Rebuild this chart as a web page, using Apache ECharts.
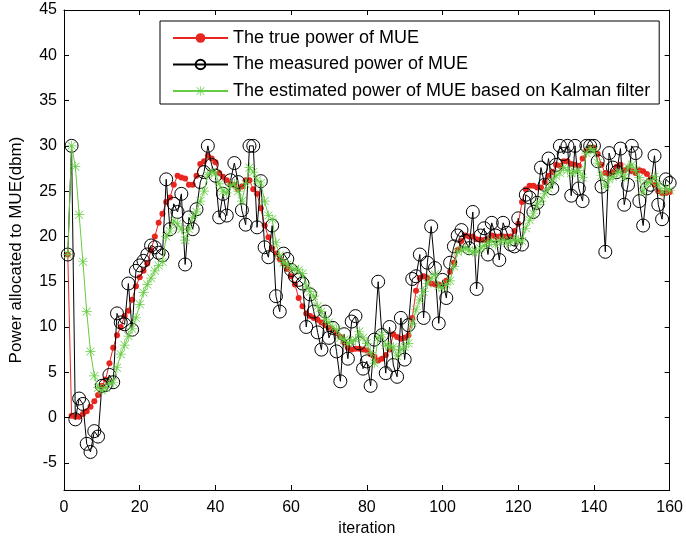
<!DOCTYPE html>
<html>
<head>
<meta charset="utf-8">
<script src="https://cdn.jsdelivr.net/npm/echarts@6/dist/echarts.min.js"></script>
<style>
html,body{margin:0;padding:0;background:#fff;}
#chart{width:686px;height:542px;}
</style>
</head>
<body>
<div id="chart"></div>
<script>
// iteration index 1..160
const iterations = Array.from({length: 160}, (_, k) => k + 1);

const truePower = [
18,0.2,0.1,0.1,0.4,0.7,1.2,1.8,2.5,3.5,
4.2,6,7.7,9.1,10,11.2,11.8,13,14.5,15.5,
16.2,17,18.5,20,21.5,22.5,23.8,24.3,25.7,26.7,
26.5,26.4,25.7,25.7,26.7,28.0,28.3,28.9,28.6,28.2,
27.0,26.6,26.2,25.8,25.7,25.2,25.5,26.2,26.2,25.2,
24.7,23.1,21.2,19.9,18.7,18.1,17.5,17.0,16.4,15.6,
14.7,13.2,12.3,11.5,11.2,11.0,10.8,10.5,10.2,9.9,
9.6,9.3,8.9,8.3,7.7,7.5,7.6,7.6,7.5,7.4,
7.0,6.7,6.3,6.5,6.9,7.5,9.2,8.9,8.7,8.8,
9.1,11.0,14.0,15.4,15.6,15.4,14.8,14.7,14.7,14.5,
15.1,16.1,17.1,18.5,19.5,20.1,20.0,20.0,19.7,19.6,
19.6,19.7,20.1,20.0,20.0,20.0,20.0,20.0,20.6,21.4,
23.8,25.2,25.6,25.6,25.4,25.4,26.0,26.7,27.1,27.9,
27.8,28.3,28.3,28.0,27.9,27.8,28.6,29.5,29.8,29.8,
29.1,27.9,27.0,26.9,27.1,27.7,27.9,27.3,27.5,27.2,
27.0,27.3,27.2,26.9,26.4,25.7,25.0,24.8,24.8,24.9
];

const measuredPower = [
18,30,-0.2,2.1,1.5,-2.9,-3.8,-1.5,-2.1,3.5,
3.6,4.7,3.9,11.5,10.5,10.3,14.8,9.7,16.2,16.8,
17.3,18,19,18.8,18.2,17.9,26.3,20.8,23.6,22.7,
24.7,16.9,22.1,20.8,23.0,26.0,27.1,30,27.9,26.7,
22.1,24.7,22.3,26.2,28.1,26.0,22.9,21.3,30,30,
21.0,26.1,18.8,17.7,21.2,13.4,11.7,18.1,17.5,16.3,
15.6,15.2,14.8,10.0,13.6,11.7,9.4,7.5,11.7,8.8,
9.9,7.3,4.0,9.2,6.5,10.6,11.2,8.2,5.4,6.2,
3.5,8.6,15.0,9.1,4.9,10.0,5.8,4.5,11.0,6.4,
10.2,15.3,15.6,18.0,11.0,17.1,21.1,16.5,10.4,15.2,
13.2,17.1,18.9,20.1,20.7,19.5,18.7,22.7,14.2,20.1,
20.9,18.0,21.5,20.1,17.4,21.5,20.4,19.1,18.9,22.0,
19.1,24.6,24.3,22.7,23.7,27.6,25.7,28.6,25.3,27.9,
30,29.1,30,24.5,30,25.3,23.9,30,30,30,
28.3,25.5,18.3,29.2,27.6,27.1,29.7,23.5,25.7,30,
29.2,23.9,21.2,25.3,25.7,28.9,23.5,21.9,26.3,25.9
];

const estimatedPower = [
18,30,27.7,22.4,17.2,11.7,7.3,4.6,3.3,3.0,
3.3,3.8,3.9,5.5,7,8,9,9.8,11,12.5,
13.8,14.7,15.4,16.2,16.8,17.2,20.0,20.6,21.7,21.4,
20.8,19.6,20.8,22.1,22.7,23.9,25.0,26.8,27.1,27.0,
25.8,25.0,24.8,25.6,25.8,25.0,23.9,25.8,27.6,27.1,
26.2,25.9,23.9,22.3,21.9,19.3,17.9,17.1,16.9,16.5,
16.4,16.3,15.9,14.5,13.9,13.4,12.3,11.7,10.8,10.5,
10.0,9.7,8.8,8.6,8.2,8.4,8.6,9.5,8.8,8.2,
7.2,6.0,8.8,9.2,8.0,7.8,7.8,6.8,7.5,7.8,
8.2,10.4,11.9,13.0,13.9,14.8,15.4,15.8,14.5,14.3,
14.7,15.1,16.7,18.3,18.5,18.7,18.5,18.3,18.3,18.7,
19.0,19.3,19.5,19.1,19.5,19.6,19.3,19.5,19.6,19.6,
19.5,20.9,21.8,22.5,23.5,23.9,24.7,25.3,26.1,26.7,
27.0,27.6,27.3,27.0,27.1,27.3,26.5,29.2,29.7,29.5,
28.1,26.7,25.5,26.3,26.6,27.0,27.1,26.5,27.6,27.9,
27.3,26.5,24.9,25.9,26.0,26.6,25.7,24.9,25.3,25.1
];

const seriesNames = [
  'The true power of MUE',
  'The measured power of MUE',
  'The estimated power of MUE based on Kalman filter'
];
const xTicks = {min: 0, max: 160, interval: 20};
const yRange = {min: -8, max: 45};
const yTickValues = [-5, 0, 5, 10, 15, 20, 25, 30, 35, 40, 45];

const pairs = arr => iterations.map((it, k) => [it, arr[k]]);

const FONT = 'Liberation Sans';
const RED = '#e8251f';
const GREEN = '#66cc44';
const asterisk = 'path://M9.3 0H10.7V20H9.3Z M0 9.3H20V10.7H0Z M1.5 2.5L2.5 1.5L18.5 17.5L17.5 18.5Z M17.5 1.5L18.5 2.5L2.5 18.5L1.5 17.5Z';

const lineAxis = {show: true, onZero: false, lineStyle: {color: '#000', width: 1}};
const tickStyle = {color: '#000', width: 1};

const chart = echarts.init(document.getElementById('chart'), null, {renderer: 'canvas'});
chart.setOption({
  animation: false,
  backgroundColor: '#fff',
  grid: {left: 61, right: 14, top: 10, bottom: 52, containLabel: false},
  legend: {
    orient: 'vertical',
    left: 160, top: 21,
    width: 502,
    padding: [8, 9, 4, 12],
    itemWidth: 55,
    itemHeight: 12,
    itemGap: 8.5,
    backgroundColor: '#fff',
    borderColor: '#000',
    borderWidth: 1,
    borderRadius: 0,
    textStyle: {fontFamily: FONT, fontSize: 18, color: '#000'},
    data: seriesNames
  },
  xAxis: [
    {
      type: 'value', position: 'bottom',
      min: xTicks.min, max: xTicks.max, interval: xTicks.interval,
      name: 'iteration', nameLocation: 'middle', nameGap: 29,
      nameTextStyle: {fontFamily: FONT, fontSize: 16, color: '#000'},
      axisLine: lineAxis,
      axisTick: {show: true, inside: true, length: 5, lineStyle: tickStyle},
      axisLabel: {fontFamily: FONT, fontSize: 16, color: '#000', margin: 10},
      splitLine: {show: false}
    },
    {
      type: 'value', position: 'top',
      min: xTicks.min, max: xTicks.max, interval: xTicks.interval,
      axisLine: lineAxis,
      axisTick: {show: true, inside: true, length: 5, lineStyle: tickStyle},
      axisLabel: {show: false},
      splitLine: {show: false}
    }
  ],
  yAxis: [
    {
      type: 'value', position: 'left',
      min: yRange.min, max: yRange.max,
      name: 'Power allocated to MUE(dbm)', nameLocation: 'middle', nameGap: 39,
      nameRotate: 90,
      nameTextStyle: {fontFamily: FONT, fontSize: 17, color: '#000'},
      axisLine: lineAxis,
      axisTick: {show: true, inside: true, length: 5, lineStyle: tickStyle, customValues: yTickValues},
      axisLabel: {fontFamily: FONT, fontSize: 16, color: '#000', margin: 7, customValues: yTickValues},
      splitLine: {show: false}
    },
    {
      type: 'value', position: 'right',
      min: yRange.min, max: yRange.max,
      axisLine: lineAxis,
      axisTick: {show: true, inside: true, length: 5, lineStyle: tickStyle, customValues: yTickValues},
      axisLabel: {show: false},
      splitLine: {show: false}
    }
  ],
  series: [
    {
      name: seriesNames[0], type: 'line', data: pairs(truePower),
      symbol: 'circle', symbolSize: 6,
      lineStyle: {color: RED, width: 1},
      itemStyle: {color: RED},
      z: 2
    },
    {
      name: seriesNames[1], type: 'line', data: pairs(measuredPower),
      symbol: 'circle', symbolSize: 13,
      lineStyle: {color: '#000', width: 1},
      itemStyle: {color: 'rgba(0,0,0,0)', borderColor: '#000', borderWidth: 1},
      z: 3
    },
    {
      name: seriesNames[2], type: 'line', data: pairs(estimatedPower),
      symbol: asterisk, symbolSize: 10,
      lineStyle: {color: GREEN, width: 1},
      itemStyle: {color: GREEN},
      z: 4
    }
  ]
});
</script>
</body>
</html>
